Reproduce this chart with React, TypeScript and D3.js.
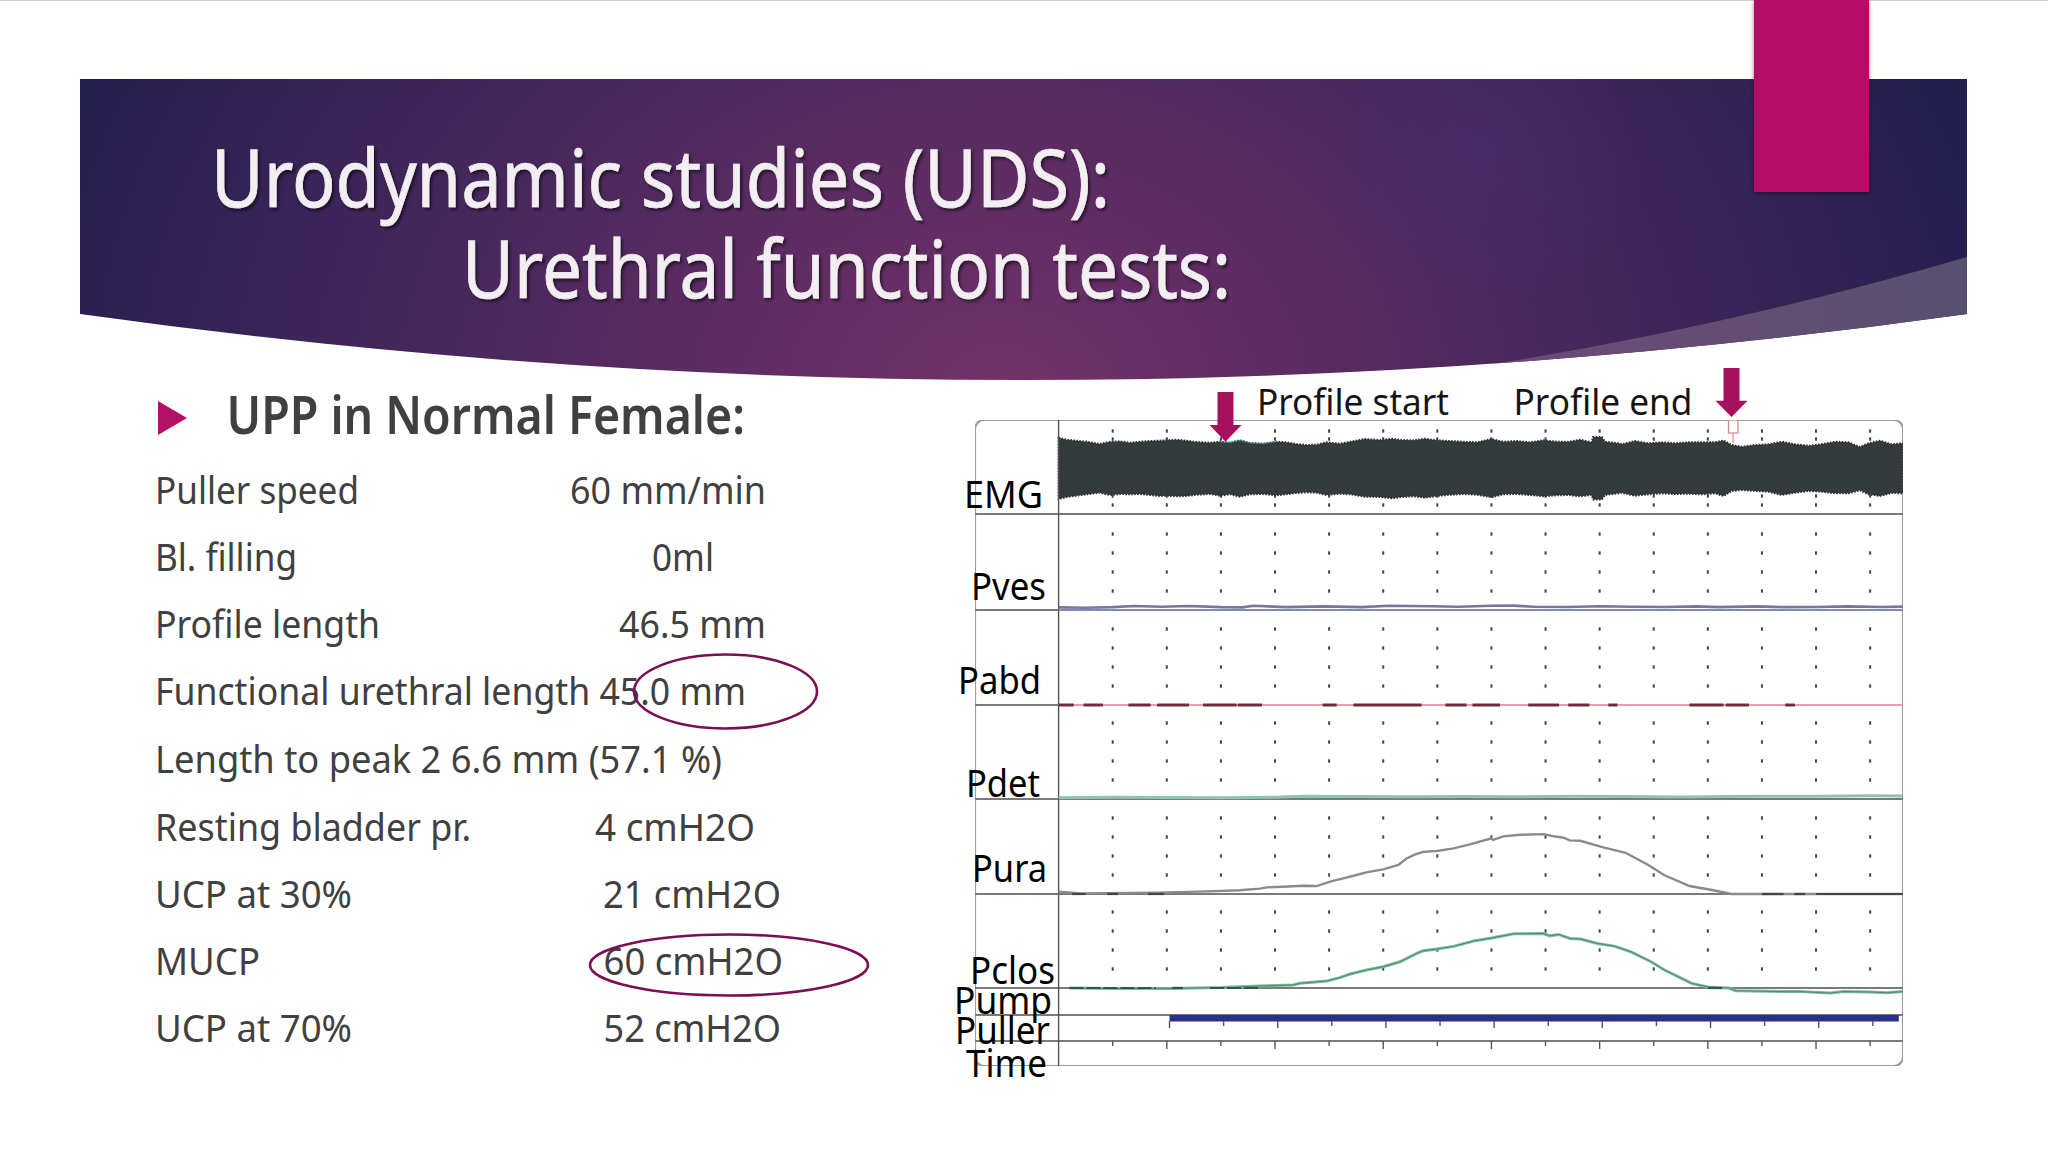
import * as React from 'react';
import * as d3 from 'd3';

const titleLines = ['Urodynamic studies (UDS):', 'Urethral function tests:'];
const heading = 'UPP in Normal Female:';
const rowNames = ['Puller speed', 'Bl. filling', 'Profile length', 'Functional urethral length 45.0 mm', 'Length to peak 2 6.6 mm (57.1 %)', 'Resting bladder pr.', 'UCP at 30%', 'MUCP', 'UCP at 70%'];
const rowValues = ['60 mm/min', '0ml', '46.5 mm', '', '', '4 cmH2O', '21 cmH2O', '60 cmH2O', '52 cmH2O'];
const channelNames = ['EMG', 'Pves', 'Pabd', 'Pdet', 'Pura', 'Pclos', 'Pump', 'Puller', 'Time'];

// grid columns, one per profile unit
const gridColumns = [1, 2, 3, 4, 5, 6, 7, 8, 9, 10, 11, 12, 13, 14, 15];
const gridRows = [20, 40, 60, 80];
const emgGridRows = [36, 28, -29, -38];
const timeTicks = [1, 2, 3, 4, 5, 6, 7, 8, 9, 10, 11, 12, 13, 14, 15];
const pullerTicks = [2.05, 3.05, 4.05, 5.05, 6.05, 7.05, 8.05, 9.05, 10.05, 11.05, 12.05, 13.05, 14.05, 15.05];

// EMG envelope
const emgTime = [0, 0.15, 0.33, 0.52, 0.76, 0.95, 1.13, 1.32, 1.5, 1.69, 1.87, 2.0, 2.18, 2.37, 2.55, 2.8, 2.98, 3.17, 3.35, 3.54, 3.78, 4.03, 4.21, 4.4, 4.58, 4.77, 4.95, 5.2,
  5.39, 5.66, 5.94, 6.16, 6.34, 6.56, 6.77, 6.99, 7.24, 7.48, 7.73, 8.0, 8.22, 8.47, 8.71, 8.96, 9.21, 9.42, 9.64, 9.85, 9.88, 10.04, 10.1, 10.35,
  10.41, 10.65, 10.9, 11.15, 11.39, 11.64, 11.89, 12.13, 12.29, 12.44, 12.63, 12.87, 13.12, 13.37, 13.61, 13.86, 14.1, 14.35, 14.6, 14.81, 14.97, 15.18, 15.4, 15.6];
const emgUpper = [29.3, 27.3, 26.3, 25.3, 23, 25.3, 25.7, 24.3, 25.3, 26, 26.3, 26.7, 27.3, 26.3, 25, 24.3, 25.3, 24.3, 26.7, 24, 23.3, 25.3, 24.7, 23, 22, 22.3, 24.7, 23.3,
  25.3, 28, 27, 28.3, 27, 26.7, 28.3, 26.7, 26, 25.3, 24.7, 28, 25.3, 26, 24.7, 26.7, 25.3, 25.3, 27.3, 24.7, 30, 30, 25.3, 23.7,
  22.7, 26, 23.7, 24.7, 23.7, 24.7, 24.7, 24.7, 26.5, 22, 20.3, 22, 22.7, 25.3, 22.7, 21.3, 22.7, 25.3, 24.7, 20, 23.7, 26.3, 22.7, 23.7];
const emgLower = [-32, -30, -28.7, -27.3, -25.7, -28, -27, -27.3, -27, -28, -29, -28.7, -29.3, -29, -27.7, -27, -28.7, -27.3, -29.7, -27.3, -27, -28.3, -27.3, -26, -25.3, -25.7, -28, -26.7,
  -27.3, -29.7, -30, -31.3, -30, -29.3, -30.7, -29, -27.7, -27, -27.7, -30.3, -27.3, -27, -28, -29.3, -28.3, -28, -29.3, -28, -32.5, -32.5, -28, -26.3,
  -25.7, -28.7, -27.3, -26.3, -27, -26.7, -27.3, -26.3, -29, -24, -23, -24, -24.7, -28, -25.7, -24, -24.7, -26.3, -26.3, -23.3, -27.3, -29, -26, -26.3];

const pvesTime = [0, 0.5, 1, 1.4, 1.9, 2.4, 3, 3.4, 3.6, 4.2, 4.9, 5.6, 6.1, 6.9, 7.4, 8, 8.4, 8.8, 9.4, 10, 10.6, 11.2, 11.8, 12.2, 12.9, 13.4, 14, 14.6, 15.2, 15.6];
const pves = [2.8, 2.4, 3, 4.2, 3.4, 4.2, 3, 2.8, 4.4, 3, 3.8, 3, 4.4, 4, 3.4, 4.4, 4.6, 3.4, 3.2, 4, 3.4, 3.2, 3.8, 3, 3.8, 3, 3.2, 3.8, 3.2, 3.6];
const pdetTime = [0, 1, 2, 3, 4, 4.5, 5.5, 6.5, 7.5, 8.5, 9.5, 10.5, 11.5, 12.3, 13, 14, 15, 15.6];
const pdet = [1.4, 1.8, 1.6, 1.2, 1.8, 2.8, 2.6, 2.4, 2.6, 2.4, 2.8, 2.6, 2.2, 2.6, 2.8, 3, 3.4, 3.2];

const puraTime = [0, 0.4, 1.82, 2.76, 3.35, 3.72, 3.85, 4.15, 4.52, 4.77, 5.02, 5.26, 5.45, 5.69, 6.0, 6.28, 6.43, 6.59, 6.74, 6.99, 7.3, 7.6, 8.0, 8.03, 8.22, 8.53, 8.96, 9.14, 9.33, 9.45, 9.64, 10.07, 10.48, 10.9, 11.19, 11.66, 12.08, 12.43, 15.6];
const pura = [2.5, 0.7, 1.4, 2.8, 3.9, 5.6, 7, 7.7, 8.7, 8.4, 13, 16.5, 19.2, 22.8, 25.9, 30.5, 37.4, 41.7, 44.4, 45.2, 48, 52.2, 58.5, 57, 60.6, 62.3, 63, 60.9, 59.2, 56.4, 56, 49, 43.4, 30.5, 20, 8.4, 4.2, 0, 0];
const pclosTime = [0.2, 1, 2, 3, 3.72, 4.34, 4.46, 4.96, 5.2, 5.39, 5.69, 6.0, 6.31, 6.62, 6.74, 6.99, 7.3, 7.67, 8.03, 8.41, 8.96, 9.08, 9.24, 9.45, 9.65, 9.96, 10.27, 10.58, 10.95, 11.2, 11.45, 11.7, 12.0, 12.26, 12.39, 12.51, 13.45, 13.7, 14.26, 14.5, 15.0, 15.3, 15.6];
const pclos = [0, -0.6, -0.4, 0.4, 2.1, 3.2, 4.9, 7.4, 10.9, 14.7, 18.9, 22.4, 27.6, 36.4, 39.2, 41, 43.8, 49.4, 52.8, 57, 57.4, 54.9, 56.4, 52.2, 51.5, 46.9, 44.1, 38.1, 27.6, 18.9, 11.9, 4.9, 1.1, 0.3, 0, -2.8, -3.8, -3.8, -5.3, -3.8, -4.2, -5, -3.8];

// dark runs on the baselines [from, to]
const pabdRuns = [[0, 0.28], [0.46, 0.82], [1.29, 1.7], [1.82, 2.41], [2.67, 3.29], [3.31, 3.76], [4.88, 5.14], [5.45, 6.71], [7.15, 7.54], [7.65, 8.16], [8.68, 9.25], [9.42, 9.81], [10.16, 10.33], [11.66, 12.29], [12.33, 12.76], [13.43, 13.61]];
const puraRuns = [[0.25, 0.5], [0.9, 1.1], [1.65, 1.95], [13.0, 13.4], [13.6, 13.8], [14.0, 15.6]];
const pclosRuns = [[0.2, 1.8], [2.1, 2.3], [2.8, 3.7], [12.0, 12.3]];
const pumpSpan = [2.05, 15.53];

const W = 2048;
const H = 1152;
const font = '"Noto Sans", sans-serif';

const tScale = d3.scaleLinear().domain([0, 15.6]).range([1058.6, 1902.6]);
const floors = [514, 610, 705, 799, 894, 988, 1015, 1041];
const pressure = (floor: number) => d3.scaleLinear().domain([0, 100]).range([floor, floor - 95]);
const emgY = d3.scaleLinear().domain([-47, 47]).range([514, 420]);

const pressureLine = (times: number[], values: number[], floor: number) => {
  const y = pressure(floor);
  return d3.line<number>().x(d => tScale(d)).y((_d, i) => y(values[i]))(times) || '';
};

const emgArea = d3.area<number>()
  .x(d => tScale(d))
  .y0((_d, i) => emgY(emgLower[i]))
  .y1((_d, i) => emgY(emgUpper[i]))(emgTime) || '';

const emgTeal = d3.line<number>().x(d => tScale(d)).y((_d, i) => emgY(emgUpper[i + 16]))(emgTime.slice(16, 22)) || '';

// [left, right, baseline]
const labelBoxes = [[964, 1043, 507.5], [971, 1046, 600], [958, 1041, 693.5], [966, 1040, 797], [972, 1047, 881.5], [970, 1055, 984], [954, 1052, 1014], [955, 1050, 1044], [966, 1047, 1077]];
const rowBaselines = [503.5, 571.3, 638.3, 705.2, 772.7, 840.7, 907.5, 975.3, 1042.3];
const rowRights = [359, 297, 380, 746, 722, 471, 352, 260, 352];
const valueBoxes = [[570, 766], [652, 714], [619, 766], [0, 0], [0, 0], [595, 755], [603, 781], [603.5, 783], [603.5, 781]];

const Fit = ({ x0, x1, y, size, fill, weight, text, filter, stroke }: { x0: number, x1: number, y: number, size: number, fill: string, weight?: number, text: string, filter?: string, stroke?: number }) => (
  <text x={x0} y={y} fontSize={size} fill={fill} fontWeight={weight || 400} fontFamily={font}
    stroke={stroke ? fill : undefined} strokeWidth={stroke}
    textLength={x1 - x0} lengthAdjust="spacingAndGlyphs" filter={filter}>{text}</text>
);

const Arrow = ({ cx, top, neck, tip }: { cx: number, top: number, neck: number, tip: number }) => (
  <path d={`M${cx - 8} ${top}H${cx + 8}V${neck}H${cx + 16}L${cx} ${tip}L${cx - 16} ${neck}H${cx - 8}Z`} fill="#a5115f" />
);

const bannerPath = 'M80 79H1967V314Q1023.5 446 80 314Z';

export default function App() {
  return (
    <svg width={W} height={H} viewBox={`0 0 ${W} ${H}`} style={{ position: 'absolute', left: 0, top: 0, display: 'block', background: '#fff' }}>
      <defs>
        <radialGradient id="bannerFill" gradientUnits="userSpaceOnUse" cx="1000" cy="400" r="1000" gradientTransform="translate(1000 400) scale(1 0.8) translate(-1000 -400)">
          <stop offset="0" stopColor="#723269" />
          <stop offset="0.3" stopColor="#5c2c62" />
          <stop offset="0.65" stopColor="#40265a" />
          <stop offset="1" stopColor="#241f4e" />
        </radialGradient>
        <radialGradient id="bannerGlow" gradientUnits="userSpaceOnUse" cx="1480" cy="150" r="170">
          <stop offset="0" stopColor="#4a2b70" stopOpacity="0.6" />
          <stop offset="1" stopColor="#4a2b70" stopOpacity="0" />
        </radialGradient>
        <linearGradient id="swoosh" gradientUnits="userSpaceOnUse" x1="1472" y1="0" x2="1967" y2="0">
          <stop offset="0" stopColor="#6f4a78" />
          <stop offset="1" stopColor="#57506f" />
        </linearGradient>
        <clipPath id="bannerClip"><path d={bannerPath} /></clipPath>
        <filter id="titleShadow" x="-5%" y="-20%" width="110%" height="150%">
          <feDropShadow dx="2" dy="2.5" stdDeviation="1.5" floodColor="#000" floodOpacity="0.55" />
        </filter>
        <filter id="markShadow" x="-10%" y="-10%" width="120%" height="120%">
          <feDropShadow dx="0" dy="1" stdDeviation="2" floodColor="#000" floodOpacity="0.5" />
        </filter>
        <filter id="soft" x="0" y="0" width="100%" height="100%" filterUnits="objectBoundingBox">
          <feGaussianBlur stdDeviation="0.45" />
        </filter>
      </defs>

      <rect x={0} y={0} width={W} height={1} fill="#d0d0d0" />

      <path d={bannerPath} fill="url(#bannerFill)" />
      <g clipPath="url(#bannerClip)">
        <ellipse cx={1480} cy={150} rx={170} ry={150} fill="url(#bannerGlow)" />
        <path d="M1967 257Q1700 335 1440 372L1967 430Z" fill="url(#swoosh)" />
      </g>
      <rect x={1754} y={0} width={115} height={192} fill="#b31166" filter="url(#markShadow)" />

      <Fit x0={211} x1={1110} y={206.7} size={80} fill="#f3eef2" stroke={0.7} text={titleLines[0]} filter="url(#titleShadow)" />
      <Fit x0={462} x1={1231} y={298.3} size={80} fill="#f3eef2" stroke={0.7} text={titleLines[1]} filter="url(#titleShadow)" />

      <path d="M158 401L187 418L158 435Z" fill="#b31166" />
      <Fit x0={226.5} x1={745} y={433.6} size={52} fill="#404040" weight={600} text={heading} />

      {rowNames.map((name, i) => (
        <Fit key={name} x0={155} x1={rowRights[i]} y={rowBaselines[i]} size={39} fill="#404040" text={name} />
      ))}
      {rowValues.map((value, i) => value && (
        <Fit key={value + i} x0={valueBoxes[i][0]} x1={valueBoxes[i][1]} y={rowBaselines[i]} size={39} fill="#404040" text={value} />
      ))}
      <ellipse cx={725.5} cy={691.5} rx={91.5} ry={37} fill="none" stroke="#7a0f55" strokeWidth={2.6} />
      <ellipse cx={729} cy={965} rx={139} ry={30.5} fill="none" stroke="#7a0f55" strokeWidth={2.6} />

      <g filter="url(#soft)">
        {/* panel */}
        <rect x={975} y={420} width={928} height={646} rx={9} fill="#fff" stroke="#9c9c9c" strokeWidth={2.2} />

        {/* grid dots */}
        {gridColumns.map(c => (
          <g key={c} fill="#444">
            {emgGridRows.map(r => <rect key={r} x={tScale(c) - 1} y={emgY(r) - 1.7} width={2} height={3.4} />)}
            {floors.slice(1, 6).map(f => gridRows.map(r => (
              <rect key={`${f}-${r}`} x={tScale(c) - 1} y={pressure(f)(r) - 1.7} width={2} height={3.4} />
            )))}
          </g>
        ))}

        {/* EMG */}
        <path d={emgArea} fill="#343a3c" stroke="#2c3133" strokeWidth={2} strokeDasharray="1.6 1.4" />
        <path d={emgTeal} fill="none" stroke="#3a8c8a" strokeWidth={1.2} opacity={0.7} />

        {/* baselines */}
        {floors.map((f, i) => (
          <line key={f} x1={975} x2={1903} y1={f} y2={f} stroke="#7a7a7a" strokeWidth={i === 0 || i === 3 || i === 4 ? 2.2 : 1.8} />
        ))}
        <line x1={tScale(0)} x2={tScale(0)} y1={420} y2={1066} stroke="#555" strokeWidth={1.4} />

        {/* pressure traces */}
        <path d={pressureLine(pvesTime, pves, floors[1])} fill="none" stroke="#74779f" strokeWidth={2.6} />
        <line x1={tScale(0)} x2={1903} y1={floors[1]} y2={floors[1]} stroke="#8688ad" strokeWidth={2} />
        <line x1={tScale(0)} x2={1903} y1={floors[2]} y2={floors[2]} stroke="#e3a0a6" strokeWidth={2.2} />
        {pabdRuns.map(([a, b]) => (
          <line key={a} x1={tScale(a)} x2={tScale(b)} y1={floors[2]} y2={floors[2]} stroke="#6e2f38" strokeWidth={3} />
        ))}
        <path d={pressureLine(pdetTime, pdet, floors[3])} fill="none" stroke="#8cc4b6" strokeWidth={3} />
        <path d={pressureLine(puraTime, pura, floors[4])} fill="none" stroke="#8a8a8a" strokeWidth={2.4} />
        {puraRuns.map(([a, b]) => (
          <line key={a} x1={tScale(a)} x2={tScale(b)} y1={floors[4]} y2={floors[4]} stroke="#444" strokeWidth={2.2} />
        ))}
        <path d={pressureLine(pclosTime, pclos, floors[5])} fill="none" stroke="#7dbb9c" strokeWidth={3} />
        <path d={pressureLine(pclosTime, pclos, floors[5])} fill="none" stroke="#4f8a6d" strokeWidth={1} />
        {pclosRuns.map(([a, b]) => (
          <line key={a} x1={tScale(a)} x2={tScale(b)} y1={floors[5]} y2={floors[5]} stroke="#2f5a45" strokeWidth={2.2} strokeDasharray="14 3" />
        ))}

        {/* pump bar and ticks */}
        <rect x={tScale(pumpSpan[0])} y={1015} width={tScale(pumpSpan[1]) - tScale(pumpSpan[0])} height={6.5} fill="#2b2e8c" />
        {pullerTicks.map((c, i) => (
          <line key={c} x1={tScale(c)} x2={tScale(c)} y1={1021} y2={i % 2 === 0 ? 1028 : 1026} stroke="#555" strokeWidth={1.4} />
        ))}
        {timeTicks.map(c => (
          <line key={c} x1={tScale(c)} x2={tScale(c)} y1={1041} y2={c % 2 === 0 ? 1049 : 1046} stroke="#555" strokeWidth={1.4} />
        ))}

        {/* end marker */}
        <line x1={1733} x2={1733} y1={430} y2={443} stroke="#e09090" strokeWidth={1.2} />
        <rect x={1728.5} y={420} width={9.5} height={13} fill="#fff" stroke="#d88a8a" strokeWidth={1.3} />
      </g>

      <Arrow cx={1225.5} top={392} neck={425} tip={441.7} />
      <Arrow cx={1731.5} top={368} neck={400.7} tip={417} />
      <Fit x0={1257} x1={1449} y={415} size={37} fill="#151515" text="Profile start" />
      <Fit x0={1513.5} x1={1692.5} y={415} size={37} fill="#151515" text="Profile end" />

      {channelNames.map((name, i) => (
        <Fit key={name} x0={labelBoxes[i][0]} x1={labelBoxes[i][1]} y={labelBoxes[i][2]} size={38} fill="#000" text={name} />
      ))}
    </svg>
  );
}
